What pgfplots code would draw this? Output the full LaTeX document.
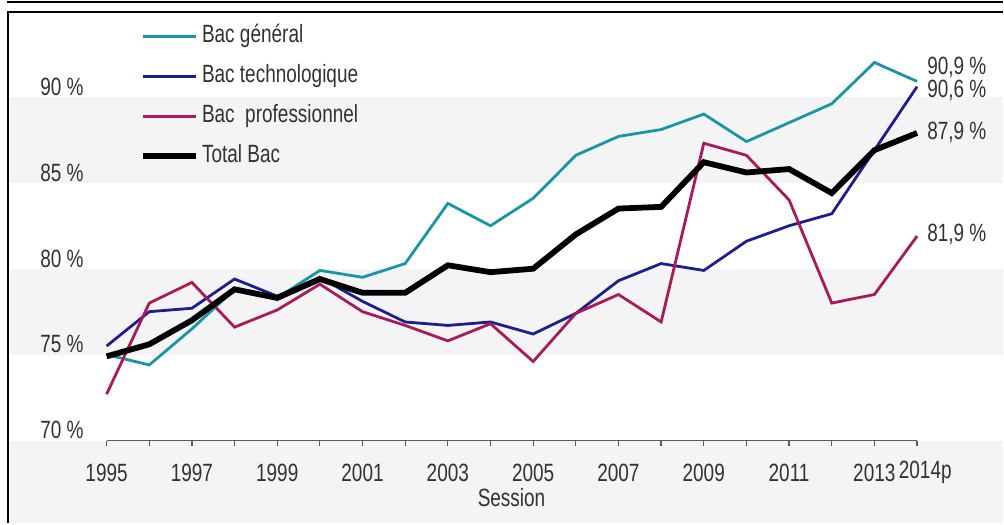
\documentclass[border=0pt]{standalone}
\usepackage{fontspec}
\setmainfont{Liberation Sans}[FakeStretch=0.76]
\usepackage{pgfplots}
\pgfplotsset{compat=1.18}

\definecolor{genc}{RGB}{24,150,168}
\definecolor{tech}{RGB}{30,30,140}
\definecolor{pro}{RGB}{170,25,90}
\definecolor{band}{RGB}{244,244,244}
\definecolor{txt}{RGB}{50,50,50}

% success rates per session, 1995 -> 2014 (provisional)
\pgfplotstableread{
year  gen   tech  pro   tot
1995  75.0  75.5  72.7  74.9
1996  74.4  77.5  78.0  75.6
1997  76.5  77.7  79.2  77.0
1998  78.8  79.4  76.6  78.8
1999  78.3  78.4  77.6  78.3
2000  79.9  79.5  79.1  79.4
2001  79.5  78.1  77.5  78.6
2002  80.3  76.9  76.7  78.6
2003  83.8  76.7  75.8  80.2
2004  82.5  76.9  76.8  79.8
2005  84.1  76.2  74.6  80.0
2006  86.6  77.4  77.4  82.0
2007  87.7  79.3  78.5  83.5
2008  88.1  80.3  76.9  83.6
2009  89.0  79.9  87.3  86.2
2010  87.4  81.6  86.6  85.6
2011  88.5  82.5  84.0  85.8
2012  89.6  83.2  78.0  84.4
2013  92.0  86.9  78.5  86.9
2014  90.9  90.6  81.9  87.9
}\bacdata

\begin{document}
\begin{tikzpicture}[font=\fontsize{12.5}{14}\selectfont, text=txt]
\begin{axis}[
    x=21.35pt, y=8.6pt,
    xmin=1992.501, xmax=2016.014,
    ymin=70, ymax=95.581,
    axis line style={draw=none},
    axis on top,
    ytick=\empty,
    xtick pos=bottom,
    clip=false,
    xtick={1995,...,2014},
    xticklabels={1995,,1997,,1999,,2001,,2003,,2005,,2007,,2009,,2011,,2013,\kern3pt2014\rlap{p}},
    xtick align=outside,
    major tick length=2.5pt,
    tick style={black!65, line width=0.6pt},
    xticklabel style={anchor=center, yshift=-13.5pt, text=txt},
    xlabel={Session},
    xlabel style={at={(axis description cs:0.51,-0.1295)}, anchor=center, text=txt},
    legend style={at={(axis cs:1995.78,94.39)}, anchor=north west, draw=none, fill=none,
      row sep=5.5pt, inner sep=0pt,
      nodes={inner sep=1.5pt, text height=9pt, text depth=2.5pt, text=txt}},
    legend image code/.code={\draw[#1] (0pt,0pt) -- (26.5pt,0pt);},
    legend cell align=left,
]
% background bands
\fill[band] (axis cs:1992.735,85) rectangle (axis cs:2016.014,90);
\fill[band] (axis cs:1992.735,75) rectangle (axis cs:2016.014,80);
\fill[band] (axis cs:1992.735,65.174) rectangle (axis cs:2016.014,70);
% frame
\draw[line width=1pt] (axis cs:1992.677,95.581) -- (axis cs:1992.677,95.494) -- (axis cs:2016.014,95.494);
\draw[line width=1pt] (axis cs:1992.677,65.174) -- (axis cs:1992.677,94.913) -- (axis cs:2016.014,94.913);
% x axis line, 1995 -> 2014 only
\draw[black!65, line width=0.9pt] (axis cs:1995,70) -- (axis cs:2014,70);

\addplot[genc, line width=1.4pt] table[x=year, y=gen] {\bacdata};
\addlegendentry{Bac général}
\addplot[tech, line width=1.4pt] table[x=year, y=tech] {\bacdata};
\addlegendentry{Bac technologique}
\addplot[pro, line width=1.4pt] table[x=year, y=pro] {\bacdata};
\addlegendentry{Bac\ \ professionnel}
\addplot[black, line width=2.9pt] table[x=year, y=tot] {\bacdata};
\addlegendentry{Total Bac}

% y labels
\node[anchor=base east, inner sep=0pt] at (axis cs:1994.47,70.1) {70 \%};
\node[anchor=base east, inner sep=0pt] at (axis cs:1994.47,75.1) {75 \%};
\node[anchor=base east, inner sep=0pt] at (axis cs:1994.47,80.1) {80 \%};
\node[anchor=base east, inner sep=0pt] at (axis cs:1994.47,85.1) {85 \%};
\node[anchor=base east, inner sep=0pt] at (axis cs:1994.47,90.1) {90 \%};
% end labels
\node[anchor=west, inner sep=0pt] at (axis cs:2014.23,91.69) {90,9 \%};
\node[anchor=west, inner sep=0pt] at (axis cs:2014.23,90.35) {90,6 \%};
\node[anchor=west, inner sep=0pt] at (axis cs:2014.23,87.91) {87,9 \%};
\node[anchor=west, inner sep=0pt] at (axis cs:2014.23,81.98) {81,9 \%};
\end{axis}
\end{tikzpicture}
\end{document}
